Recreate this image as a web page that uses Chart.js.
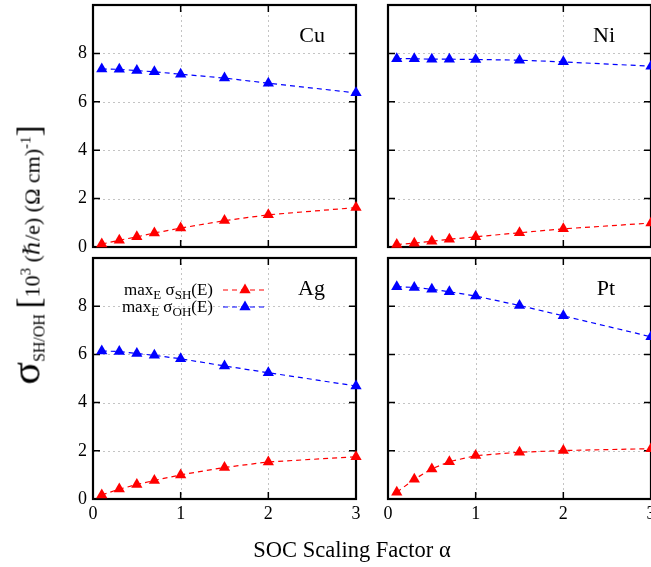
<!DOCTYPE html>
<html>
<head>
<meta charset="utf-8">
<script src="https://cdn.jsdelivr.net/npm/chart.js@4.4.0/dist/chart.umd.min.js"></script>
<style>
body { margin:0; width:651px; height:567px; overflow:hidden; position:relative; background:#fff; font-family:"Liberation Serif", "DejaVu Serif", serif; }
canvas { position:absolute; }
#ytitle { position:absolute; left:26px; top:255px; transform:translate(-50%,-50%) rotate(-90deg); white-space:nowrap; font-size:22px; line-height:1; }
#ytitle .sig { font-size:42px; }
#ytitle sub { font-size:16px; vertical-align:-5px; }
#ytitle sup { font-size:15px; vertical-align:9px; }
#ytitle .br { font-size:33px; }
#xtitle { position:absolute; left:352px; top:537px; transform:translateX(-50%); white-space:nowrap; font-size:22.5px; }
</style>
</head>
<body>
<canvas id="cu"></canvas>
<canvas id="ni"></canvas>
<canvas id="ag"></canvas>
<canvas id="pt"></canvas>
<div id="ytitle"><span class="sig">σ</span><sub>SH/OH</sub> <span class="br">[</span>10<sup>3</sup> (<i>ℏ</i>/e) (Ω cm)<sup>-1</sup><span class="br">]</span></div>
<div id="xtitle">SOC Scaling Factor α</div>
<script>
var alpha = [0.1, 0.3, 0.5, 0.7, 1.0, 1.5, 2.0, 3.0];

var cuSH = [0.12, 0.28, 0.42, 0.58, 0.78, 1.09, 1.33, 1.63];
var cuOH = [7.36, 7.34, 7.29, 7.24, 7.14, 6.98, 6.77, 6.37];
var niSH = [0.10, 0.16, 0.24, 0.32, 0.42, 0.59, 0.75, 0.99];
var niOH = [7.78, 7.78, 7.76, 7.76, 7.75, 7.72, 7.65, 7.47];
var agSH = [0.17, 0.41, 0.60, 0.77, 1.00, 1.31, 1.54, 1.75];
var agOH = [6.14, 6.12, 6.04, 5.96, 5.82, 5.52, 5.24, 4.69];
var ptSH = [0.28, 0.82, 1.25, 1.55, 1.80, 1.94, 2.01, 2.09];
var ptOH = [8.81, 8.78, 8.70, 8.60, 8.42, 8.03, 7.60, 6.73];

var yTicks = [0, 2, 4, 6, 8];
var xTicks = [0, 1, 2, 3];

var RED = '#ff0000', BLUE = '#0000ff';
var FONT = '"Liberation Serif", "DejaVu Serif", serif';
var PAD = 20;

// gnuplot style box: dotted grid, thick frame, inward ticks, panel name
var frame = {
  id: 'frame',
  beforeDatasetsDraw: function (chart, args, opts) {
    var a = chart.chartArea, ctx = chart.ctx;
    var xs = chart.scales.x, ys = chart.scales.y;
    ctx.save();
    // grid
    ctx.strokeStyle = '#c4c4c4';
    ctx.lineWidth = 1;
    ctx.setLineDash([2, 3]);
    ctx.beginPath();
    yTicks.forEach(function (v) {
      if (v === 0) return;
      var py = Math.round(ys.getPixelForValue(v)) + 0.5;
      ctx.moveTo(a.left, py); ctx.lineTo(a.right, py);
    });
    xTicks.forEach(function (v) {
      if (v === 0 || v === 3) return;
      var px = Math.round(xs.getPixelForValue(v)) + 0.5;
      ctx.moveTo(px, a.top); ctx.lineTo(px, a.bottom);
    });
    ctx.stroke();
    ctx.setLineDash([]);
    // inward ticks
    ctx.strokeStyle = '#000';
    ctx.lineWidth = 1.5;
    ctx.beginPath();
    yTicks.forEach(function (v) {
      var py = ys.getPixelForValue(v);
      ctx.moveTo(a.left, py); ctx.lineTo(a.left + 7, py);
      ctx.moveTo(a.right, py); ctx.lineTo(a.right - 7, py);
    });
    xTicks.forEach(function (v) {
      var px = xs.getPixelForValue(v);
      ctx.moveTo(px, a.bottom); ctx.lineTo(px, a.bottom - 7);
      ctx.moveTo(px, a.top); ctx.lineTo(px, a.top + 7);
    });
    ctx.stroke();
    ctx.lineWidth = 2.2;
    ctx.strokeRect(a.left, a.top, a.right - a.left, a.bottom - a.top);
    ctx.fillStyle = '#000';
    ctx.font = '22px ' + FONT;
    ctx.textAlign = 'right';
    ctx.textBaseline = 'alphabetic';
    ctx.fillText(opts.label, a.right - opts.dx, a.top + 37);
    ctx.restore();
  }
};

function tri(ctx, x, y, r, color) {
  ctx.beginPath();
  for (var i = 0; i < 3; i++) {
    var ang = i * 2 * Math.PI / 3;
    var px = x + Math.sin(ang) * r, py = y - Math.cos(ang) * r;
    if (i === 0) ctx.moveTo(px, py); else ctx.lineTo(px, py);
  }
  ctx.closePath();
  ctx.fillStyle = color;
  ctx.fill();
}

// legend with subscripts, only in the Ag panel
var subLegend = {
  id: 'subLegend',
  afterDatasetsDraw: function (chart, args, opts) {
    if (!opts.show) return;
    var a = chart.chartArea, ctx = chart.ctx;
    var rows = [['SH', RED, 32], ['OH', BLUE, 49]];
    ctx.save();
    rows.forEach(function (row) {
      var parts = [['max', 17, 0], ['E', 13, 4], [' σ', 17, 0], [row[0], 13, 4], ['(E)', 17, 0]];
      var total = 0;
      parts.forEach(function (p) { ctx.font = p[1] + 'px ' + FONT; total += ctx.measureText(p[0]).width; });
      var x = a.left + 120 - total, base = a.top + row[2] + 5;
      ctx.fillStyle = '#000';
      ctx.textAlign = 'left';
      parts.forEach(function (p) {
        ctx.font = p[1] + 'px ' + FONT;
        ctx.fillText(p[0], x, base + p[2]);
        x += ctx.measureText(p[0]).width;
      });
      var ly = a.top + row[2];
      ctx.strokeStyle = row[1];
      ctx.lineWidth = 1.2;
      ctx.setLineDash([5, 4]);
      ctx.beginPath();
      ctx.moveTo(a.left + 130, ly); ctx.lineTo(a.left + 174, ly);
      ctx.stroke();
      ctx.setLineDash([]);
      tri(ctx, a.left + 152, ly, 6.5, row[1]);
    });
    ctx.restore();
  }
};

function makePanel(id, label, sh, oh, area, showY, showX, legend) {
  var yW = showY ? 30 : 0, xH = showX ? 25 : 0;
  var padL = yW + PAD, padT = PAD, padR = PAD, padB = xH + PAD;
  var cv = document.getElementById(id);
  var w = area.r - area.l + padL + padR, h = area.b - area.t + padT + padB;
  cv.style.left = (area.l - padL) + 'px';
  cv.style.top = (area.t - padT) + 'px';
  cv.style.width = w + 'px';
  cv.style.height = h + 'px';
  cv.width = w; cv.height = h;

  function ds(data, color) {
    return {
      data: data.map(function (v, i) { return { x: alpha[i], y: v }; }),
      borderColor: color,
      backgroundColor: color,
      borderWidth: 1.2,
      borderDash: [5, 4],
      pointStyle: 'triangle',
      pointRadius: 6.5,
      pointBorderWidth: 0,
      clip: false
    };
  }

  new Chart(cv.getContext('2d'), {
    type: 'line',
    data: { datasets: [ds(sh, RED), ds(oh, BLUE)] },
    plugins: [frame, subLegend],
    options: {
      responsive: false,
      animation: false,
      layout: { padding: PAD },
      plugins: {
        legend: { display: false },
        tooltip: { enabled: false },
        frame: { label: label, dx: showY ? 31 : 36 },
        subLegend: { show: legend }
      },
      scales: {
        x: {
          type: 'linear', min: 0, max: 3,
          afterBuildTicks: function (s) { s.ticks = xTicks.map(function (v) { return { value: v }; }); },
          afterFit: function (s) { s.height = xH; },
          grid: { display: false, drawTicks: false },
          border: { display: false },
          ticks: { display: showX, padding: 4, color: '#000', font: { family: FONT, size: 18 } }
        },
        y: {
          min: 0, max: 10,
          afterBuildTicks: function (s) { s.ticks = yTicks.map(function (v) { return { value: v }; }); },
          afterFit: function (s) { s.width = yW; },
          grid: { display: false, drawTicks: false },
          border: { display: false },
          ticks: { display: showY, padding: 6, color: '#000', font: { family: FONT, size: 18 } }
        }
      }
    }
  });
}

makePanel('cu', 'Cu', cuSH, cuOH, { l: 93, t: 5, r: 356, b: 247 }, true, false, false);
makePanel('ni', 'Ni', niSH, niOH, { l: 388, t: 5, r: 651, b: 247 }, false, false, false);
makePanel('ag', 'Ag', agSH, agOH, { l: 93, t: 258, r: 356, b: 499 }, true, true, true);
makePanel('pt', 'Pt', ptSH, ptOH, { l: 388, t: 258, r: 651, b: 499 }, false, true, false);
</script>
</body>
</html>
